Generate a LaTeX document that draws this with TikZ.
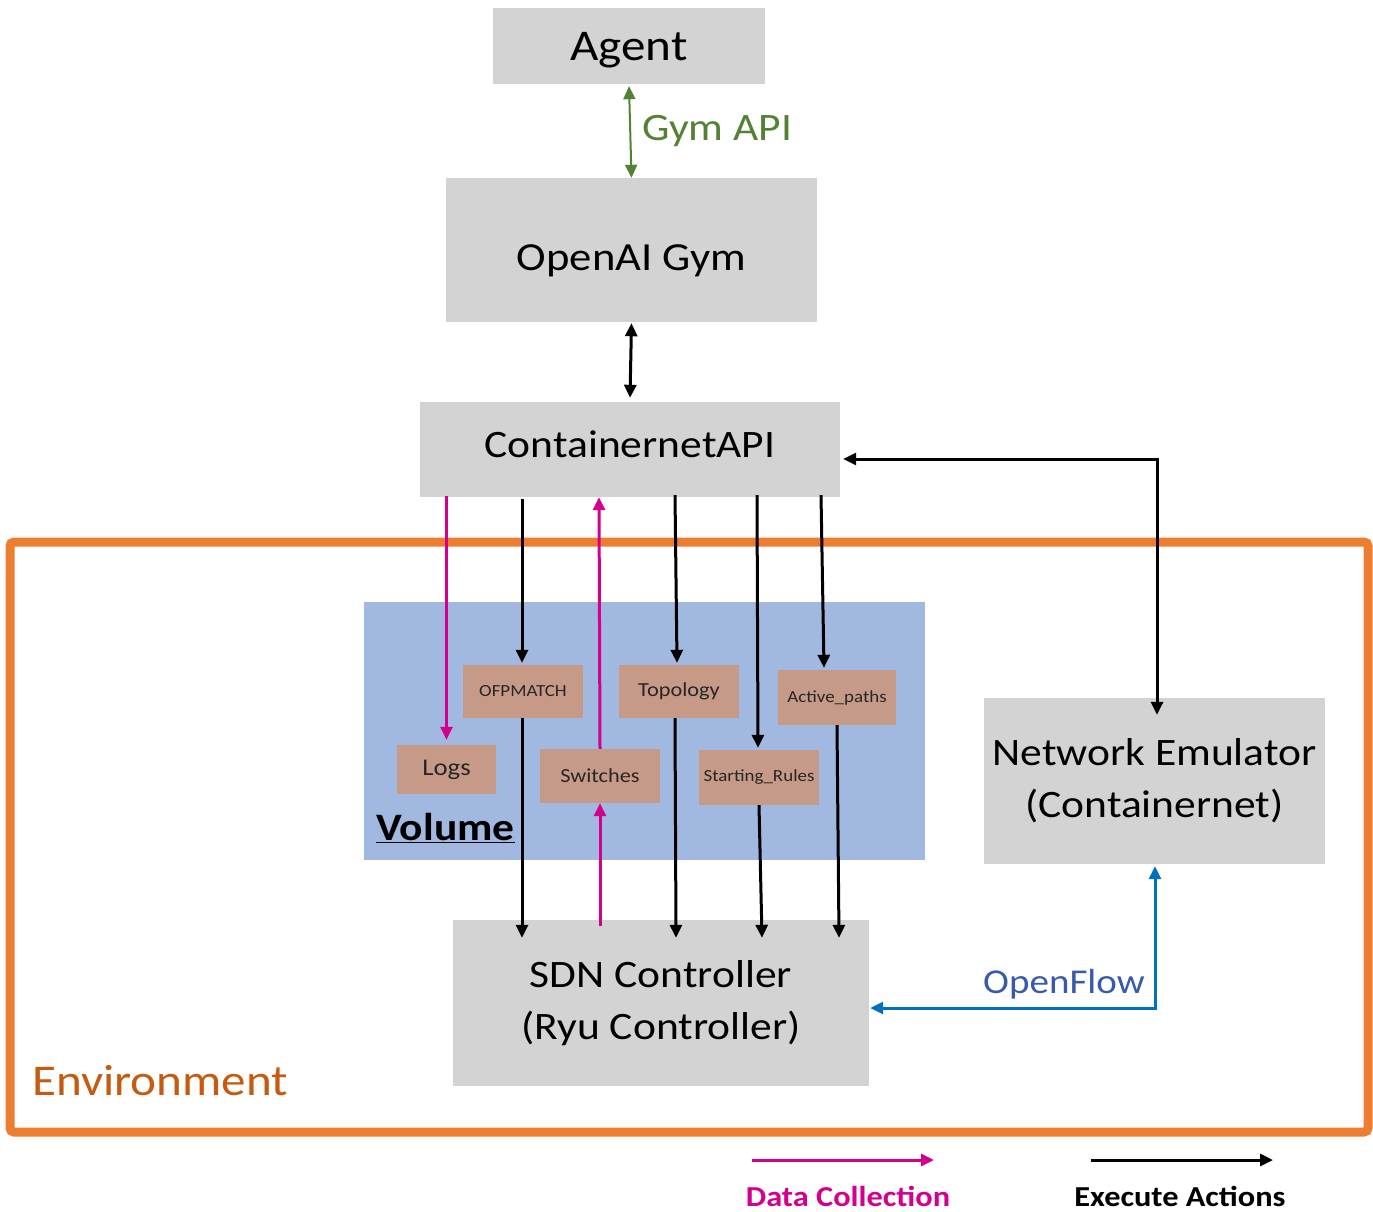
\documentclass[tikz,border=0pt]{standalone}
\usepackage{fontspec}
\setmainfont[FakeStretch=1.12]{Carlito}
\usetikzlibrary{arrows.meta,calc}
\definecolor{boxgray}{RGB}{211,211,211}
\definecolor{envorange}{RGB}{237,125,49}
\definecolor{envtext}{RGB}{197,90,17}
\definecolor{volblue}{RGB}{161,184,224}
\definecolor{brownbox}{RGB}{199,154,136}
\definecolor{dcmag}{RGB}{210,0,140}
\definecolor{gymgreen}{RGB}{84,130,53}
\definecolor{ofblue}{RGB}{0,112,192}
\definecolor{oftext}{RGB}{55,90,170}
\newcommand{\fs}[1]{\fontsize{#1}{#1}\selectfont}
\tikzset{
  graybox/.style={fill=boxgray, draw=none, align=center, inner sep=0pt, text=black},
  basectr/.style={text height=0pt, text depth=0pt},
  brownb/.style={fill=brownbox, draw=none, align=center, inner sep=0pt, text=black!85},
  lbl/.style={inner sep=0pt, anchor=center},
  tip/.style={-{Triangle[length=13bp,width=12bp]}},
  dtip/.style={{Triangle[length=13bp,width=12bp]}-{Triangle[length=13bp,width=12bp]}},
  exec/.style={tip, line width=3bp, black},
  collect/.style={tip, line width=3bp, dcmag},
}
\begin{document}
\begin{tikzpicture}[x=1bp,y=-1bp]
\useasboundingbox (0,0) rectangle (1373,1211);
% environment frame
\draw[envorange, line width=9bp, rounded corners=4bp] (10,542) rectangle (1368,1132);
\node[inner sep=0pt, text=envtext, anchor=base west] (envlbl) at (32,1095) {\fs{44}Environment};
% volume
\node[fill=volblue, draw=none, minimum width=561bp, minimum height=258bp, inner sep=0pt] (vol) at (644.5,731) {};
\node[lbl, anchor=west] (vollbl) at (376,828) {\fs{39}\bfseries\underline{Volume}};
% main boxes
\node[graybox, basectr, minimum width=272bp, minimum height=76bp] (agent) at (629,46) {\raisebox{-14bp}{\fs{44}Agent}};
\node[graybox, basectr, minimum width=371bp, minimum height=144bp] (gym) at (631.5,250) {\raisebox{-20bp}{\fs{40}OpenAI Gym}};
\node[graybox, basectr, minimum width=420bp, minimum height=95bp] (capi) at (630,449.5) {\raisebox{-7.5bp}{\fs{39}ContainernetAPI}};
\node[graybox, minimum width=416bp, minimum height=166bp, font={\fontsize{39}{52}\selectfont}] (sdn) at (661,1003) {SDN Controller\\(Ryu Controller)};
\node[graybox, minimum width=341bp, minimum height=166bp, font={\fontsize{39}{52}\selectfont}] (netem) at (1154.5,781) {\raisebox{-3bp}{Network Emulator}\\\raisebox{-3bp}{(Containernet)}};
% brown boxes
\node[brownb, minimum width=120bp, minimum height=53bp] (ofp) at (523,691.5) {\fs{17}OFPMATCH};
\node[brownb, minimum width=120bp, minimum height=53bp] (topo) at (679,691.5) {\fs{20}Topology};
\node[brownb, minimum width=118bp, minimum height=55bp] (ap) at (837,697.5) {\fs{17}Active\_paths};
\node[brownb, minimum width=99bp, minimum height=49bp] (logs) at (446.5,769.5) {\fs{24}Logs};
\node[brownb, minimum width=120bp, minimum height=54bp] (sw) at (600,776) {\fs{20}Switches};
\node[brownb, minimum width=120bp, minimum height=55bp] (sr) at (759,777.5) {\fs{17}Starting\_Rules};
% Gym API
\draw[dtip, gymgreen, line width=2bp] ([yshift=-2bp]agent.south) -- (gym.north);
\node[inner sep=0pt, text=gymgreen, anchor=base west] (gymapi) at (642,140) {\fs{39}Gym API};
% gym - capi
\draw[dtip, line width=3bp] ([yshift=-1bp]gym.south) -- ([yshift=4bp]capi.north);
% capi -> volume items
\draw[collect] ([yshift=1bp]logs.north |- capi.south) -- ([yshift=5bp]logs.north);
\draw[exec] ([xshift=-1bp,yshift=-2bp]ofp.north |- capi.south) -- ([xshift=-1bp,yshift=2bp]ofp.north);
\draw[collect] (sw.north) -- ([xshift=-1bp]sw.north |- capi.south);
\draw[exec] ([xshift=-4bp,yshift=2bp]topo.north |- capi.south) -- ([xshift=-2bp,yshift=2bp]topo.north);
\draw[exec] ([xshift=-2bp,yshift=2bp]sr.north |- capi.south) -- ([xshift=-1bp,yshift=2bp]sr.north);
\draw[exec] ([xshift=-16bp,yshift=2bp]ap.north |- capi.south) -- ([xshift=-13bp,yshift=2bp]ap.north);
% volume items -> sdn
\draw[exec] ([xshift=-1bp]ofp.south) -- ([xshift=-1bp,yshift=-18bp]ofp.south |- sdn.north);
\draw[exec] ([xshift=-4bp]topo.south) -- ([xshift=-3bp,yshift=-18bp]topo.south |- sdn.north);
\draw[exec] (sr.south) -- ([xshift=3bp,yshift=-18bp]sr.south |- sdn.north);
\draw[exec] ([xshift=0bp]ap.south) -- ([xshift=2bp,yshift=-18bp]ap.south |- sdn.north);
\draw[collect] ([yshift=-6bp]sw.south |- sdn.north) -- (sw.south);
% capi <-> network emulator
\draw[dtip, line width=3bp] ([xshift=3bp,yshift=-9.5bp]capi.east) -| ([xshift=2.5bp,yshift=-17bp]netem.north);
% openflow
\draw[dtip, ofblue, line width=3bp] ([xshift=1bp,yshift=-5bp]sdn.east) -| ([xshift=0.5bp,yshift=-2bp]netem.south);
\node[inner sep=0pt, text=oftext, anchor=base east] (oflbl) at (1145,993) {\fs{35}OpenFlow};
% legend
\coordinate (dc1) at (752,1160);
\coordinate (dc2) at (934,1160);
\coordinate (ea1) at (1091,1160);
\coordinate (ea2) at (1273,1160);
\draw[collect] (dc1) -- (dc2);
\draw[exec] (ea1) -- (ea2);
\node[inner sep=0pt, anchor=base, text=dcmag] (dclbl) at (848,1206) {\fs{29}\bfseries Data Collection};
\node[inner sep=0pt, anchor=base] (ealbl) at (1180,1206) {\fs{29}\bfseries Execute Actions};
\end{tikzpicture}
\end{document}
